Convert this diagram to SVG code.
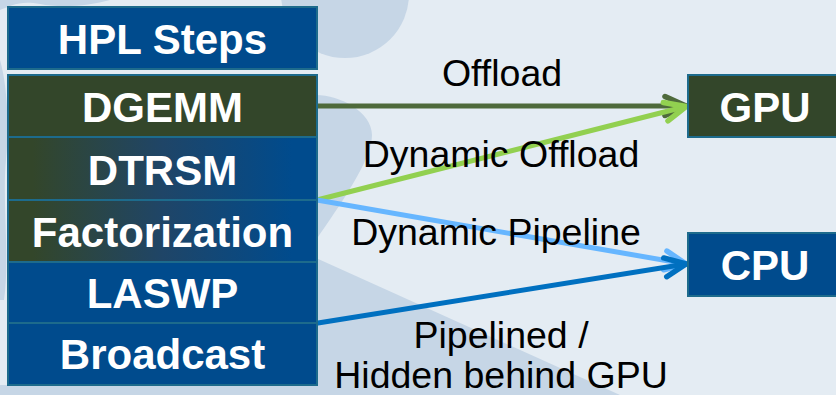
<svg xmlns="http://www.w3.org/2000/svg" width="836" height="395" viewBox="0 0 836 395">
  <style>
    .box { stroke: #1d6b8c; stroke-width: 2; }
    .blue { fill: #004b8d; }
    .green { fill: #33462a; }
    .btxt { font-family: "Liberation Sans", Arial, sans-serif; font-weight: bold; font-size: 42px; fill: #ffffff; text-anchor: middle; }
    .lbl { font-family: "Liberation Sans", Arial, sans-serif; font-size: 37.5px; fill: #000000; text-anchor: middle; }
    .conn { fill: none; stroke-width: 5; stroke-linecap: round; }
    .blob { fill: #c6d6e6; }
  </style>
  <defs>
    <linearGradient id="greenToBlue" x1="0" y1="0" x2="1" y2="0">
      <stop offset="0.08" stop-color="#33462a"/>
      <stop offset="0.5" stop-color="#1f4567"/>
      <stop offset="0.92" stop-color="#004b8d"/>
    </linearGradient>
    <marker id="ahDark" viewBox="-26 -13 30 26" refX="0" refY="0" markerWidth="30" markerHeight="26" markerUnits="userSpaceOnUse" orient="auto">
      <path d="M-21,-9.5 L0,0 L-21,9.5" fill="none" stroke="#4e6a3b" stroke-width="5.5" stroke-linecap="round" stroke-linejoin="round"/>
    </marker>
    <marker id="ahLime" viewBox="-26 -13 30 26" refX="0" refY="0" markerWidth="30" markerHeight="26" markerUnits="userSpaceOnUse" orient="auto">
      <path d="M-21,-9.5 L0,0 L-21,9.5" fill="none" stroke="#92d050" stroke-width="5.5" stroke-linecap="round" stroke-linejoin="round"/>
    </marker>
    <marker id="ahSky" viewBox="-26 -13 30 26" refX="0" refY="0" markerWidth="30" markerHeight="26" markerUnits="userSpaceOnUse" orient="auto">
      <path d="M-21,-9.5 L0,0 L-21,9.5" fill="none" stroke="#66b6ff" stroke-width="5.5" stroke-linecap="round" stroke-linejoin="round"/>
    </marker>
    <marker id="ahBlue" viewBox="-26 -13 30 26" refX="0" refY="0" markerWidth="30" markerHeight="26" markerUnits="userSpaceOnUse" orient="auto">
      <path d="M-21,-9.5 L0,0 L-21,9.5" fill="none" stroke="#0070c0" stroke-width="5.5" stroke-linecap="round" stroke-linejoin="round"/>
    </marker>
  </defs>

  <!-- backdrop -->
  <rect x="0" y="0" width="836" height="395" fill="#e4ecf3"/>
  <g id="backdrop-shapes">
    <circle class="blob" cx="345" cy="-6" r="64"/>
    <path class="blob" d="M316,95 C340,95 372,112 372,135 C372,160 340,205 316,240 Z"/>
    <path class="blob" d="M316,258 L620,395 L316,395 Z"/>
    <path class="blob" d="M0,0 L110,0 C90,6 60,8 40,4 C20,0 10,6 0,10 Z"/>
    <path class="blob" d="M0,60 C6,80 10,120 6,160 C2,200 10,260 4,300 L0,300 Z"/>
    <path class="blob" d="M0,385 L320,385 L320,395 L0,395 Z"/>
  </g>

  <!-- connectors -->
  <g id="connectors">
    <line class="conn" x1="318" y1="106" x2="686" y2="106" stroke="#4e6a3b" stroke-linecap="butt" marker-end="url(#ahDark)"/>
    <line class="conn" x1="317" y1="200" x2="686" y2="106.5" stroke="#92d050" marker-end="url(#ahLime)"/>
    <line class="conn" x1="317" y1="200" x2="686" y2="264" stroke="#66b6ff" marker-end="url(#ahSky)"/>
    <line class="conn" x1="318" y1="323" x2="686" y2="264" stroke="#0070c0" marker-end="url(#ahBlue)"/>
  </g>

  <!-- connector labels -->
  <g id="labels">
    <text class="lbl" x="502" y="86">Offload</text>
    <text class="lbl" x="501" y="167">Dynamic Offload</text>
    <text class="lbl" x="496" y="245">Dynamic Pipeline</text>
    <text class="lbl" x="501" y="348">Pipelined /</text>
    <text class="lbl" x="501" y="388">Hidden behind GPU</text>
  </g>

  <!-- step list -->
  <g id="hpl-steps">
    <rect class="box blue" x="8" y="7" width="309" height="62"/>
    <text class="btxt" x="162.5" y="54">HPL Steps</text>
  </g>
  <g id="dgemm">
    <rect class="box green" x="8" y="75" width="309" height="62"/>
    <text class="btxt" x="162.5" y="122">DGEMM</text>
  </g>
  <g id="dtrsm">
    <rect class="box" x="8" y="137" width="309" height="63" fill="url(#greenToBlue)"/>
    <text class="btxt" x="162.5" y="185">DTRSM</text>
  </g>
  <g id="factorization">
    <rect class="box" x="8" y="200" width="309" height="62" fill="url(#greenToBlue)"/>
    <text class="btxt" x="162.5" y="247">Factorization</text>
  </g>
  <g id="laswp">
    <rect class="box blue" x="8" y="262" width="309" height="61"/>
    <text class="btxt" x="162.5" y="308">LASWP</text>
  </g>
  <g id="broadcast">
    <rect class="box blue" x="8" y="323" width="309" height="62"/>
    <text class="btxt" x="162.5" y="369">Broadcast</text>
  </g>

  <!-- targets -->
  <g id="gpu">
    <rect class="box green" x="688" y="75" width="160" height="62"/>
    <text class="btxt" x="765" y="122">GPU</text>
  </g>
  <g id="cpu">
    <rect class="box blue" x="688" y="233" width="160" height="63"/>
    <text class="btxt" x="765" y="280">CPU</text>
  </g>
</svg>
